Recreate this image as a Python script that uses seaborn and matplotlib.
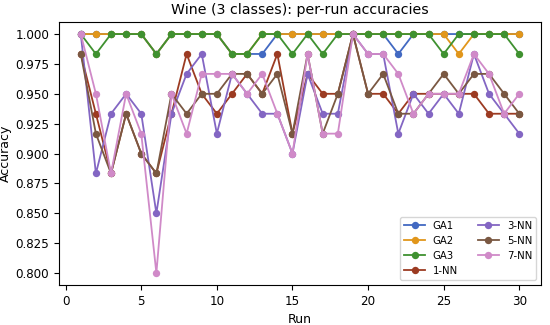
import numpy as np
import pandas as pd
import matplotlib
matplotlib.use("Agg")
import matplotlib.pyplot as plt
import seaborn as sns

# Per-run accuracies (test set of 60 samples)
runs = list(range(1, 31))
methods = ["GA1", "GA2", "GA3", "1-NN", "3-NN", "5-NN", "7-NN"]

ga1 = [60, 60, 60, 60, 60, 59, 60, 60, 60, 60, 59, 59, 59, 60, 60,
       60, 60, 60, 60, 60, 60, 59, 60, 60, 60, 60, 60, 60, 60, 60]
ga2 = [60, 60, 60, 60, 60, 59, 60, 60, 60, 60, 59, 59, 60, 60, 60,
       60, 60, 60, 60, 60, 60, 60, 60, 60, 60, 59, 60, 60, 60, 60]
ga3 = [60, 59, 60, 60, 60, 59, 60, 60, 60, 60, 59, 59, 60, 60, 59,
       60, 59, 60, 60, 60, 60, 60, 60, 60, 59, 60, 60, 60, 60, 59]
nn1 = [59, 56, 53, 56, 54, 53, 56, 59, 57, 56, 57, 58, 57, 59, 55,
       58, 57, 57, 60, 57, 57, 56, 57, 57, 57, 57, 57, 56, 56, 56]
nn3 = [60, 53, 56, 57, 56, 51, 56, 58, 59, 55, 58, 57, 56, 56, 54,
       58, 56, 56, 60, 59, 59, 55, 57, 56, 57, 56, 59, 57, 56, 55]
nn5 = [59, 55, 53, 56, 54, 53, 57, 56, 57, 57, 58, 58, 57, 58, 55,
       59, 55, 57, 60, 57, 58, 56, 56, 57, 58, 57, 58, 58, 57, 56]
nn7 = [60, 57, 53, 57, 55, 48, 57, 55, 58, 58, 58, 57, 58, 56, 54,
       59, 55, 55, 60, 59, 59, 58, 56, 57, 57, 57, 59, 58, 56, 57]
n_test = 60

colors = ["#4269c2", "#e1961b", "#3f9130", "#9c3b22", "#8366c3", "#7a5842", "#d08ac8"]

series = [ga1, ga2, ga3, nn1, nn3, nn5, nn7]
df = pd.DataFrame({
    "Run": runs * len(methods),
    "Accuracy": np.concatenate([np.array(s) / n_test for s in series]),
    "Method": np.repeat(methods, len(runs)),
})

fig, ax = plt.subplots(figsize=(5.5, 3.25), dpi=100)
for name, col in zip(methods, colors):
    sub = df[df["Method"] == name]
    sns.lineplot(data=sub, x="Run", y="Accuracy", color=col, marker="o",
                 markersize=5.3, markeredgewidth=0, linewidth=1.3,
                 label=name, ax=ax)

ax.set_title("Wine (3 classes): per-run accuracies", fontsize=10.2)
ax.set_xlabel("Run", fontsize=9)
ax.set_ylabel("Accuracy", fontsize=9, labelpad=2)
ax.set_xticks([0, 5, 10, 15, 20, 25, 30])
ax.tick_params(labelsize=8.6)
ax.legend(loc="lower right", ncol=2, fontsize=7.3)

fig.subplots_adjust(left=0.107, right=0.984, bottom=0.123, top=0.932)
fig.savefig("out.png", dpi=100)
